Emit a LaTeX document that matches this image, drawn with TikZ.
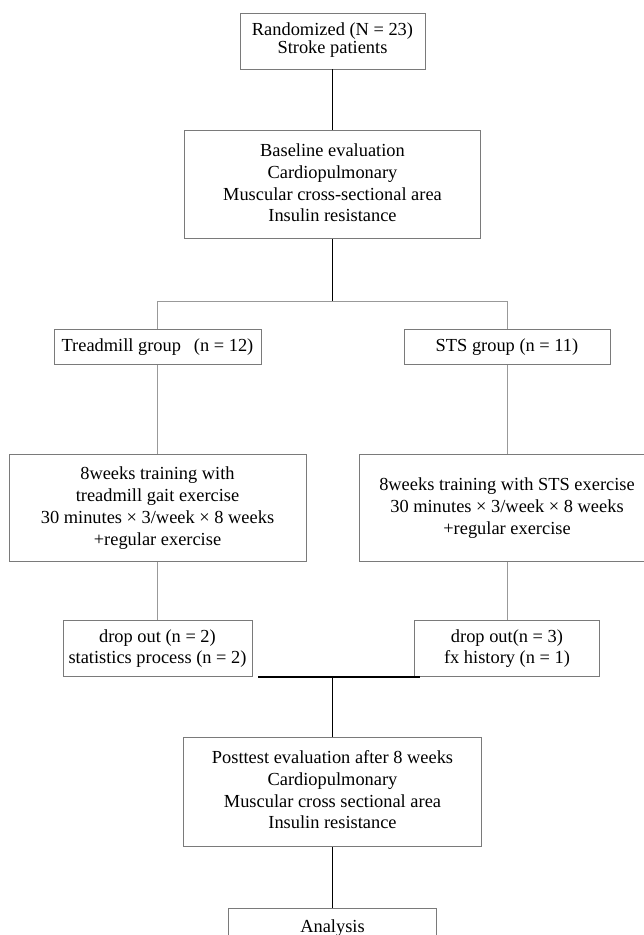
\documentclass[tikz,border=0pt]{standalone}
\usepackage{fontspec}
\setmainfont{Liberation Serif}
\usetikzlibrary{positioning}

\begin{document}
\begin{tikzpicture}[x=1pt, y=-1pt]
  \definecolor{boxline}{HTML}{7A7A7A}
  \definecolor{branchline}{HTML}{999999}
  \newcommand{\groupsep}[0]{90pt}
  \newcommand{\stepsep}[0]{89pt}
  \newcommand{\dropsep}[0]{58pt}
  \newcommand{\nodename}[1]{\fontsize{18.4}{21.7}\selectfont \begin{tabular}{@{}c@{}}#1\end{tabular}}
  \newcommand{\nodehead}[1]{\fontsize{18.4}{18.3}\selectfont \begin{tabular}{@{}c@{}}#1\end{tabular}}
  \tikzstyle{block}  = [rectangle, draw = boxline, line width=0.9pt, fill = white, inner sep=0pt]
  \tikzstyle{trunk}  = [line width=1.2pt, black]
  \tikzstyle{branch} = [line width=1pt, branchline]

  \useasboundingbox (0,0) rectangle (644,935);

  \node [block, minimum width=185pt, minimum height=56pt] at (332.5,41)              (rand)     {\nodehead{Randomized (N = 23)\\Stroke patients}};
  \node [block, minimum width=296pt, minimum height=108pt, below = 61pt of rand]    (baseline) {\nodename{Baseline evaluation\\Cardiopulmonary\\Muscular cross-sectional area\\Insulin resistance}};

  \node [block, minimum width=207pt, minimum height=35pt, below = \groupsep of baseline, xshift=-175pt] (treadmill) {\nodename{Treadmill group\hspace{0.7em}(n = 12)}};
  \node [block, minimum width=206pt, minimum height=35pt, below = \groupsep of baseline, xshift=174.5pt] (sts)      {\nodename{STS group (n = 11)}};

  \node [block, minimum width=297pt, minimum height=107pt, below = \stepsep of treadmill] (treadmilltrain) {\nodename{8weeks training with\\treadmill gait exercise\\30 minutes × 3/week × 8 weeks\\+regular exercise}};
  \node [block, minimum width=296pt, minimum height=107pt, below = \stepsep of sts]       (ststrain)       {\nodename{8weeks training with STS exercise\\30 minutes × 3/week × 8 weeks\\+regular exercise}};

  \node [block, minimum width=189pt, minimum height=56pt, below = \dropsep of treadmilltrain] (treadmilldrop) {\nodename{drop out (n = 2)\\statistics process (n = 2)}};
  \node [block, minimum width=185pt, minimum height=56pt, below = \dropsep of ststrain]       (stsdrop)       {\nodename{drop out(n = 3)\\fx history (n = 1)}};

  \coordinate [below = 62pt of baseline] (split);
  \coordinate (join) at (treadmilldrop.south -| baseline.south);

  \node [block, minimum width=298pt, minimum height=109pt, below = 60pt of join]     (posttest) {\nodename{Posttest evaluation after 8 weeks\\Cardiopulmonary\\Muscular cross sectional area\\Insulin resistance}};
  \node [block, minimum width=208pt, minimum height=40pt, below = 61pt of posttest]  (analysis) {\nodename{Analysis}};

  \draw [trunk]  (rand) -- (baseline);
  \draw [trunk]  (baseline) -- (split);
  \draw [branch] (treadmill) |- (split) -| (sts);
  \draw [branch] (treadmill) -- (treadmilltrain);
  \draw [branch] (sts) -- (ststrain);
  \draw [branch] (treadmilltrain) -- (treadmilldrop);
  \draw [branch] (ststrain) -- (stsdrop);
  \draw [trunk]  ([xshift=6pt]treadmilldrop.south east) -- ([xshift=6pt]stsdrop.south west);
  \draw [trunk]  (join) -- (posttest);
  \draw [trunk]  (posttest) -- (analysis);
 \end{tikzpicture}
\end{document}
